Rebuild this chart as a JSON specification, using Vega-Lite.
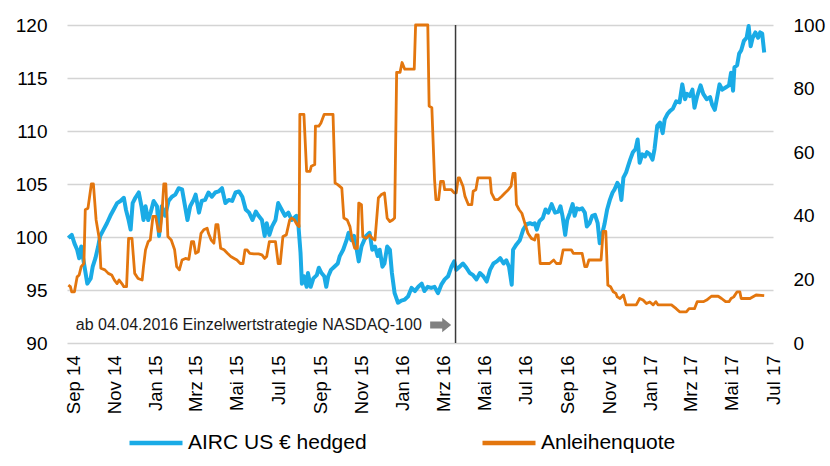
{
  "$schema": "https://vega.github.io/schema/vega-lite/v6.json",
  "width": 706,
  "height": 318,
  "autosize": {"type": "none"},
  "padding": {"left": 67, "top": 25, "right": 57, "bottom": 123},
  "config": {
    "view": {"stroke": null},
    "font": "Liberation Sans",
    "axis": {"labelFont": "Liberation Sans", "labelColor": "#000000", "title": null},
    "legend": {"labelFont": "Liberation Sans"}
  },
  "datasets": {
    "airc": [
      {"date": "2014-08-25", "value": 99.9}, {"date": "2014-08-30", "value": 100.2}, {"date": "2014-09-03", "value": 99.4},
      {"date": "2014-09-07", "value": 98.8}, {"date": "2014-09-10", "value": 98.0}, {"date": "2014-09-13", "value": 99.1},
      {"date": "2014-09-22", "value": 95.6}, {"date": "2014-09-27", "value": 96.1}, {"date": "2014-09-30", "value": 97.2},
      {"date": "2014-10-04", "value": 98.0}, {"date": "2014-10-08", "value": 99.1}, {"date": "2014-10-11", "value": 100.1},
      {"date": "2014-10-16", "value": 100.7}, {"date": "2014-10-21", "value": 101.3}, {"date": "2014-10-26", "value": 102.0},
      {"date": "2014-10-31", "value": 102.6}, {"date": "2014-11-05", "value": 103.2}, {"date": "2014-11-10", "value": 103.4},
      {"date": "2014-11-15", "value": 103.7}, {"date": "2014-11-18", "value": 102.6}, {"date": "2014-11-22", "value": 101.6},
      {"date": "2014-11-25", "value": 100.7}, {"date": "2014-11-28", "value": 103.2}, {"date": "2014-12-02", "value": 103.7},
      {"date": "2014-12-07", "value": 104.2}, {"date": "2014-12-11", "value": 102.9}, {"date": "2014-12-14", "value": 101.6},
      {"date": "2014-12-17", "value": 102.9}, {"date": "2014-12-21", "value": 101.6}, {"date": "2014-12-25", "value": 102.4},
      {"date": "2014-12-29", "value": 103.4}, {"date": "2015-01-03", "value": 102.9}, {"date": "2015-01-06", "value": 100.1},
      {"date": "2015-01-10", "value": 102.9}, {"date": "2015-01-15", "value": 102.0}, {"date": "2015-01-20", "value": 103.4},
      {"date": "2015-01-25", "value": 103.8}, {"date": "2015-01-30", "value": 104.0}, {"date": "2015-02-04", "value": 104.6},
      {"date": "2015-02-09", "value": 104.5}, {"date": "2015-02-12", "value": 103.4}, {"date": "2015-02-17", "value": 101.6},
      {"date": "2015-02-21", "value": 102.9}, {"date": "2015-02-26", "value": 103.5}, {"date": "2015-03-01", "value": 104.0},
      {"date": "2015-03-06", "value": 102.3}, {"date": "2015-03-10", "value": 103.4}, {"date": "2015-03-15", "value": 103.5},
      {"date": "2015-03-20", "value": 104.2}, {"date": "2015-03-25", "value": 103.8}, {"date": "2015-03-30", "value": 104.2},
      {"date": "2015-04-04", "value": 104.3}, {"date": "2015-04-09", "value": 104.6}, {"date": "2015-04-14", "value": 103.2},
      {"date": "2015-04-19", "value": 103.5}, {"date": "2015-04-24", "value": 103.4}, {"date": "2015-04-29", "value": 104.2},
      {"date": "2015-05-04", "value": 104.3}, {"date": "2015-05-09", "value": 103.8}, {"date": "2015-05-14", "value": 102.6},
      {"date": "2015-05-19", "value": 102.3}, {"date": "2015-05-24", "value": 101.6}, {"date": "2015-05-29", "value": 102.4},
      {"date": "2015-06-02", "value": 102.0}, {"date": "2015-06-07", "value": 101.6}, {"date": "2015-06-11", "value": 100.1},
      {"date": "2015-06-14", "value": 101.3}, {"date": "2015-06-18", "value": 100.2}, {"date": "2015-06-22", "value": 101.0},
      {"date": "2015-06-27", "value": 101.6}, {"date": "2015-07-01", "value": 103.2}, {"date": "2015-07-06", "value": 102.6},
      {"date": "2015-07-11", "value": 102.0}, {"date": "2015-07-16", "value": 102.3}, {"date": "2015-07-21", "value": 101.6},
      {"date": "2015-07-28", "value": 102.0}, {"date": "2015-07-31", "value": 101.0}, {"date": "2015-08-03", "value": 98.5},
      {"date": "2015-08-05", "value": 95.6}, {"date": "2015-08-08", "value": 96.3}, {"date": "2015-08-12", "value": 95.3},
      {"date": "2015-08-14", "value": 96.6}, {"date": "2015-08-18", "value": 95.3}, {"date": "2015-08-22", "value": 96.1},
      {"date": "2015-08-27", "value": 96.4}, {"date": "2015-08-30", "value": 97.1}, {"date": "2015-09-03", "value": 96.6},
      {"date": "2015-09-07", "value": 96.3}, {"date": "2015-09-10", "value": 95.3}, {"date": "2015-09-13", "value": 96.3},
      {"date": "2015-09-17", "value": 96.9}, {"date": "2015-09-22", "value": 97.2}, {"date": "2015-09-27", "value": 97.5},
      {"date": "2015-09-30", "value": 98.2}, {"date": "2015-10-05", "value": 98.8}, {"date": "2015-10-10", "value": 99.7},
      {"date": "2015-10-13", "value": 100.4}, {"date": "2015-10-17", "value": 99.7}, {"date": "2015-10-21", "value": 100.1},
      {"date": "2015-10-25", "value": 98.8}, {"date": "2015-10-28", "value": 97.7}, {"date": "2015-11-01", "value": 99.1},
      {"date": "2015-11-05", "value": 99.7}, {"date": "2015-11-08", "value": 100.1}, {"date": "2015-11-13", "value": 100.4},
      {"date": "2015-11-17", "value": 98.8}, {"date": "2015-11-21", "value": 99.1}, {"date": "2015-11-25", "value": 98.2},
      {"date": "2015-11-28", "value": 98.8}, {"date": "2015-12-02", "value": 97.2}, {"date": "2015-12-05", "value": 97.5},
      {"date": "2015-12-09", "value": 99.1}, {"date": "2015-12-13", "value": 98.8}, {"date": "2015-12-16", "value": 96.6},
      {"date": "2015-12-20", "value": 94.7}, {"date": "2015-12-25", "value": 93.8}, {"date": "2015-12-30", "value": 94.0},
      {"date": "2016-01-04", "value": 94.1}, {"date": "2016-01-09", "value": 94.4}, {"date": "2016-01-14", "value": 95.2},
      {"date": "2016-01-19", "value": 94.9}, {"date": "2016-01-24", "value": 95.3}, {"date": "2016-01-29", "value": 95.6},
      {"date": "2016-02-02", "value": 94.9}, {"date": "2016-02-07", "value": 95.3}, {"date": "2016-02-12", "value": 95.2},
      {"date": "2016-02-17", "value": 95.3}, {"date": "2016-02-22", "value": 94.7}, {"date": "2016-02-27", "value": 95.5},
      {"date": "2016-03-03", "value": 96.0}, {"date": "2016-03-08", "value": 96.3}, {"date": "2016-03-13", "value": 97.2},
      {"date": "2016-03-17", "value": 97.7}, {"date": "2016-03-20", "value": 96.9}, {"date": "2016-03-25", "value": 97.2},
      {"date": "2016-03-30", "value": 97.5}, {"date": "2016-04-04", "value": 97.1}, {"date": "2016-04-09", "value": 96.6},
      {"date": "2016-04-14", "value": 96.4}, {"date": "2016-04-19", "value": 96.0}, {"date": "2016-04-24", "value": 96.6},
      {"date": "2016-04-29", "value": 96.3}, {"date": "2016-05-04", "value": 95.8}, {"date": "2016-05-09", "value": 96.9},
      {"date": "2016-05-14", "value": 97.5}, {"date": "2016-05-19", "value": 97.7}, {"date": "2016-05-24", "value": 98.0},
      {"date": "2016-05-29", "value": 97.5}, {"date": "2016-06-02", "value": 97.8}, {"date": "2016-06-06", "value": 97.2},
      {"date": "2016-06-10", "value": 95.5}, {"date": "2016-06-12", "value": 98.8}, {"date": "2016-06-17", "value": 99.3},
      {"date": "2016-06-22", "value": 99.7}, {"date": "2016-06-27", "value": 100.7}, {"date": "2016-07-02", "value": 101.2},
      {"date": "2016-07-07", "value": 101.3}, {"date": "2016-07-11", "value": 101.2}, {"date": "2016-07-14", "value": 101.3},
      {"date": "2016-07-17", "value": 100.7}, {"date": "2016-07-21", "value": 101.5}, {"date": "2016-07-26", "value": 101.8},
      {"date": "2016-07-30", "value": 102.6}, {"date": "2016-08-03", "value": 102.3}, {"date": "2016-08-08", "value": 103.1},
      {"date": "2016-08-13", "value": 102.3}, {"date": "2016-08-18", "value": 102.4}, {"date": "2016-08-21", "value": 102.9},
      {"date": "2016-08-24", "value": 102.0}, {"date": "2016-08-28", "value": 100.2}, {"date": "2016-08-31", "value": 101.6},
      {"date": "2016-09-04", "value": 102.3}, {"date": "2016-09-08", "value": 103.1}, {"date": "2016-09-11", "value": 102.0},
      {"date": "2016-09-14", "value": 102.7}, {"date": "2016-09-18", "value": 102.6}, {"date": "2016-09-22", "value": 102.7},
      {"date": "2016-09-26", "value": 102.3}, {"date": "2016-09-29", "value": 101.0}, {"date": "2016-10-03", "value": 101.3},
      {"date": "2016-10-07", "value": 102.0}, {"date": "2016-10-11", "value": 102.1}, {"date": "2016-10-15", "value": 101.3},
      {"date": "2016-10-18", "value": 99.4}, {"date": "2016-10-22", "value": 100.4}, {"date": "2016-10-25", "value": 101.2},
      {"date": "2016-10-29", "value": 102.6}, {"date": "2016-11-02", "value": 103.5}, {"date": "2016-11-06", "value": 104.2},
      {"date": "2016-11-09", "value": 104.5}, {"date": "2016-11-13", "value": 105.1}, {"date": "2016-11-16", "value": 104.8},
      {"date": "2016-11-19", "value": 103.5}, {"date": "2016-11-22", "value": 105.6}, {"date": "2016-11-26", "value": 106.1},
      {"date": "2016-11-29", "value": 106.7}, {"date": "2016-12-02", "value": 107.3}, {"date": "2016-12-06", "value": 108.0},
      {"date": "2016-12-10", "value": 108.3}, {"date": "2016-12-13", "value": 109.2}, {"date": "2016-12-16", "value": 107.0},
      {"date": "2016-12-20", "value": 107.8}, {"date": "2016-12-24", "value": 107.6}, {"date": "2016-12-27", "value": 108.0},
      {"date": "2016-12-31", "value": 107.8}, {"date": "2017-01-04", "value": 107.3}, {"date": "2017-01-07", "value": 108.3},
      {"date": "2017-01-11", "value": 110.5}, {"date": "2017-01-15", "value": 110.8}, {"date": "2017-01-19", "value": 109.8},
      {"date": "2017-01-22", "value": 111.1}, {"date": "2017-01-26", "value": 111.6}, {"date": "2017-01-30", "value": 111.9},
      {"date": "2017-02-03", "value": 112.1}, {"date": "2017-02-08", "value": 112.8}, {"date": "2017-02-13", "value": 112.7},
      {"date": "2017-02-17", "value": 114.4}, {"date": "2017-02-21", "value": 113.0}, {"date": "2017-02-24", "value": 113.5},
      {"date": "2017-02-28", "value": 113.3}, {"date": "2017-03-04", "value": 113.9}, {"date": "2017-03-07", "value": 112.2},
      {"date": "2017-03-11", "value": 113.3}, {"date": "2017-03-16", "value": 114.3}, {"date": "2017-03-20", "value": 113.5},
      {"date": "2017-03-25", "value": 113.0}, {"date": "2017-03-30", "value": 113.2}, {"date": "2017-04-02", "value": 112.5},
      {"date": "2017-04-06", "value": 112.0}, {"date": "2017-04-09", "value": 113.0}, {"date": "2017-04-13", "value": 114.4},
      {"date": "2017-04-17", "value": 113.9}, {"date": "2017-04-22", "value": 114.1}, {"date": "2017-04-27", "value": 114.3},
      {"date": "2017-04-30", "value": 115.5}, {"date": "2017-05-03", "value": 113.8}, {"date": "2017-05-05", "value": 116.0},
      {"date": "2017-05-09", "value": 116.2}, {"date": "2017-05-12", "value": 117.3}, {"date": "2017-05-15", "value": 117.6},
      {"date": "2017-05-19", "value": 118.5}, {"date": "2017-05-23", "value": 118.8}, {"date": "2017-05-26", "value": 119.9},
      {"date": "2017-05-29", "value": 118.0}, {"date": "2017-06-01", "value": 118.8}, {"date": "2017-06-05", "value": 119.3},
      {"date": "2017-06-09", "value": 118.8}, {"date": "2017-06-12", "value": 119.3}, {"date": "2017-06-15", "value": 119.2},
      {"date": "2017-06-18", "value": 117.4}
    ],
    "quote": [
      {"date": "2014-08-25", "value": 18.2}, {"date": "2014-08-28", "value": 17.7}, {"date": "2014-08-30", "value": 16.1},
      {"date": "2014-09-03", "value": 16.1}, {"date": "2014-09-07", "value": 20.8}, {"date": "2014-09-10", "value": 21.4},
      {"date": "2014-09-13", "value": 24.0}, {"date": "2014-09-17", "value": 25.0}, {"date": "2014-09-19", "value": 41.9},
      {"date": "2014-09-23", "value": 42.4}, {"date": "2014-09-28", "value": 50.0}, {"date": "2014-10-01", "value": 50.0},
      {"date": "2014-10-05", "value": 38.7}, {"date": "2014-10-10", "value": 32.4}, {"date": "2014-10-12", "value": 23.5},
      {"date": "2014-10-18", "value": 23.0}, {"date": "2014-10-23", "value": 21.9}, {"date": "2014-10-28", "value": 21.4},
      {"date": "2014-11-01", "value": 19.8}, {"date": "2014-11-05", "value": 18.7}, {"date": "2014-11-08", "value": 19.8},
      {"date": "2014-11-12", "value": 18.7}, {"date": "2014-11-15", "value": 17.7}, {"date": "2014-11-19", "value": 17.7},
      {"date": "2014-11-22", "value": 32.9}, {"date": "2014-11-27", "value": 32.9}, {"date": "2014-12-01", "value": 21.9},
      {"date": "2014-12-06", "value": 20.3}, {"date": "2014-12-12", "value": 19.8}, {"date": "2014-12-14", "value": 24.0},
      {"date": "2014-12-17", "value": 29.3}, {"date": "2014-12-21", "value": 31.9}, {"date": "2014-12-24", "value": 32.4},
      {"date": "2014-12-28", "value": 39.8}, {"date": "2015-01-01", "value": 39.8}, {"date": "2015-01-05", "value": 35.1},
      {"date": "2015-01-08", "value": 35.1}, {"date": "2015-01-10", "value": 39.8}, {"date": "2015-01-13", "value": 50.0},
      {"date": "2015-01-16", "value": 50.0}, {"date": "2015-01-19", "value": 33.5}, {"date": "2015-01-24", "value": 32.4},
      {"date": "2015-01-29", "value": 29.3}, {"date": "2015-02-01", "value": 24.0}, {"date": "2015-02-05", "value": 23.0},
      {"date": "2015-02-09", "value": 26.1}, {"date": "2015-02-14", "value": 26.6}, {"date": "2015-02-19", "value": 26.3},
      {"date": "2015-02-23", "value": 31.9}, {"date": "2015-02-26", "value": 31.9}, {"date": "2015-03-01", "value": 28.2},
      {"date": "2015-03-05", "value": 28.7}, {"date": "2015-03-09", "value": 34.5}, {"date": "2015-03-13", "value": 35.6},
      {"date": "2015-03-18", "value": 36.1}, {"date": "2015-03-20", "value": 34.5}, {"date": "2015-03-24", "value": 32.4},
      {"date": "2015-03-28", "value": 31.4}, {"date": "2015-03-31", "value": 37.2}, {"date": "2015-04-03", "value": 37.2},
      {"date": "2015-04-07", "value": 29.8}, {"date": "2015-04-12", "value": 29.3}, {"date": "2015-04-17", "value": 28.2},
      {"date": "2015-04-22", "value": 27.2}, {"date": "2015-04-27", "value": 26.6}, {"date": "2015-05-01", "value": 26.1},
      {"date": "2015-05-06", "value": 25.0}, {"date": "2015-05-10", "value": 25.0}, {"date": "2015-05-13", "value": 29.3},
      {"date": "2015-05-16", "value": 29.3}, {"date": "2015-05-20", "value": 28.2}, {"date": "2015-05-26", "value": 28.0},
      {"date": "2015-06-02", "value": 28.0}, {"date": "2015-06-07", "value": 27.7}, {"date": "2015-06-11", "value": 26.6},
      {"date": "2015-06-14", "value": 27.2}, {"date": "2015-06-18", "value": 31.9}, {"date": "2015-06-27", "value": 31.9},
      {"date": "2015-07-01", "value": 25.0}, {"date": "2015-07-04", "value": 25.0}, {"date": "2015-07-08", "value": 33.5},
      {"date": "2015-07-13", "value": 34.0}, {"date": "2015-07-18", "value": 38.7}, {"date": "2015-07-21", "value": 39.3},
      {"date": "2015-07-25", "value": 38.7}, {"date": "2015-07-29", "value": 37.2}, {"date": "2015-08-01", "value": 36.6},
      {"date": "2015-08-02", "value": 71.9}, {"date": "2015-08-08", "value": 71.9}, {"date": "2015-08-12", "value": 54.0},
      {"date": "2015-08-17", "value": 54.0}, {"date": "2015-08-19", "value": 55.6}, {"date": "2015-08-24", "value": 56.1},
      {"date": "2015-08-25", "value": 68.2}, {"date": "2015-08-30", "value": 68.2}, {"date": "2015-09-02", "value": 69.1},
      {"date": "2015-09-07", "value": 71.9}, {"date": "2015-09-20", "value": 71.9}, {"date": "2015-09-23", "value": 50.3},
      {"date": "2015-09-27", "value": 49.8}, {"date": "2015-10-03", "value": 48.7}, {"date": "2015-10-06", "value": 39.3},
      {"date": "2015-10-11", "value": 38.7}, {"date": "2015-10-15", "value": 36.6}, {"date": "2015-10-18", "value": 32.9},
      {"date": "2015-10-22", "value": 29.8}, {"date": "2015-10-26", "value": 29.8}, {"date": "2015-10-28", "value": 44.0},
      {"date": "2015-11-01", "value": 43.5}, {"date": "2015-11-03", "value": 33.5}, {"date": "2015-11-08", "value": 32.9},
      {"date": "2015-11-13", "value": 34.0}, {"date": "2015-11-17", "value": 32.9}, {"date": "2015-11-21", "value": 32.4},
      {"date": "2015-11-26", "value": 45.6}, {"date": "2015-11-30", "value": 46.6}, {"date": "2015-12-05", "value": 47.2},
      {"date": "2015-12-09", "value": 39.3}, {"date": "2015-12-13", "value": 38.2}, {"date": "2015-12-17", "value": 38.7},
      {"date": "2015-12-20", "value": 39.3}, {"date": "2015-12-23", "value": 85.1}, {"date": "2015-12-28", "value": 85.1},
      {"date": "2015-12-31", "value": 88.2}, {"date": "2016-01-04", "value": 86.1}, {"date": "2016-01-18", "value": 86.1},
      {"date": "2016-01-20", "value": 100.0}, {"date": "2016-02-07", "value": 100.0}, {"date": "2016-02-09", "value": 74.5},
      {"date": "2016-02-13", "value": 74.0}, {"date": "2016-02-17", "value": 51.4}, {"date": "2016-02-19", "value": 45.1},
      {"date": "2016-02-23", "value": 45.1}, {"date": "2016-02-26", "value": 50.8}, {"date": "2016-03-01", "value": 50.8},
      {"date": "2016-03-03", "value": 48.2}, {"date": "2016-03-13", "value": 48.2}, {"date": "2016-03-17", "value": 47.2},
      {"date": "2016-03-20", "value": 47.2}, {"date": "2016-03-23", "value": 51.9}, {"date": "2016-03-25", "value": 51.9},
      {"date": "2016-03-30", "value": 49.3}, {"date": "2016-04-02", "value": 46.1}, {"date": "2016-04-07", "value": 43.5},
      {"date": "2016-04-12", "value": 43.5}, {"date": "2016-04-14", "value": 47.7}, {"date": "2016-04-18", "value": 48.2},
      {"date": "2016-04-21", "value": 51.9}, {"date": "2016-05-09", "value": 51.9}, {"date": "2016-05-11", "value": 47.2},
      {"date": "2016-05-16", "value": 45.1}, {"date": "2016-05-21", "value": 45.1}, {"date": "2016-05-26", "value": 46.1},
      {"date": "2016-05-31", "value": 47.2}, {"date": "2016-06-05", "value": 48.2}, {"date": "2016-06-09", "value": 49.3},
      {"date": "2016-06-12", "value": 53.3}, {"date": "2016-06-15", "value": 53.3}, {"date": "2016-06-17", "value": 43.5},
      {"date": "2016-06-21", "value": 41.9}, {"date": "2016-06-25", "value": 40.8}, {"date": "2016-06-30", "value": 37.2},
      {"date": "2016-07-04", "value": 34.5}, {"date": "2016-07-09", "value": 32.9}, {"date": "2016-07-14", "value": 32.4},
      {"date": "2016-07-16", "value": 34.0}, {"date": "2016-07-19", "value": 34.0}, {"date": "2016-07-22", "value": 25.0},
      {"date": "2016-08-05", "value": 25.0}, {"date": "2016-08-11", "value": 26.1}, {"date": "2016-08-15", "value": 25.0},
      {"date": "2016-08-21", "value": 25.0}, {"date": "2016-08-25", "value": 29.3}, {"date": "2016-09-06", "value": 29.3},
      {"date": "2016-09-09", "value": 28.2}, {"date": "2016-09-22", "value": 28.2}, {"date": "2016-09-26", "value": 24.0},
      {"date": "2016-09-29", "value": 24.0}, {"date": "2016-10-02", "value": 26.1}, {"date": "2016-10-20", "value": 26.1},
      {"date": "2016-10-23", "value": 35.1}, {"date": "2016-10-27", "value": 35.1}, {"date": "2016-10-30", "value": 18.2},
      {"date": "2016-11-03", "value": 17.7}, {"date": "2016-11-07", "value": 16.1}, {"date": "2016-11-11", "value": 15.6},
      {"date": "2016-11-13", "value": 14.5}, {"date": "2016-11-17", "value": 14.0}, {"date": "2016-11-22", "value": 15.1},
      {"date": "2016-11-26", "value": 12.0}, {"date": "2016-12-11", "value": 12.0}, {"date": "2016-12-16", "value": 14.0},
      {"date": "2016-12-21", "value": 13.5}, {"date": "2016-12-26", "value": 12.4}, {"date": "2016-12-31", "value": 12.9},
      {"date": "2017-01-05", "value": 12.0}, {"date": "2017-01-09", "value": 13.0}, {"date": "2017-01-12", "value": 12.0},
      {"date": "2017-02-01", "value": 12.0}, {"date": "2017-02-08", "value": 10.8}, {"date": "2017-02-13", "value": 9.8},
      {"date": "2017-02-23", "value": 9.8}, {"date": "2017-02-27", "value": 10.8}, {"date": "2017-03-07", "value": 10.8},
      {"date": "2017-03-11", "value": 13.0}, {"date": "2017-03-20", "value": 13.0}, {"date": "2017-03-25", "value": 13.5},
      {"date": "2017-04-01", "value": 14.7}, {"date": "2017-04-11", "value": 14.7}, {"date": "2017-04-16", "value": 14.0},
      {"date": "2017-04-22", "value": 13.0}, {"date": "2017-04-27", "value": 13.0}, {"date": "2017-04-30", "value": 14.0},
      {"date": "2017-05-04", "value": 14.5}, {"date": "2017-05-09", "value": 16.1}, {"date": "2017-05-13", "value": 16.1},
      {"date": "2017-05-15", "value": 14.0}, {"date": "2017-05-28", "value": 14.0}, {"date": "2017-06-06", "value": 15.1},
      {"date": "2017-06-18", "value": 14.9}
    ],
    "notes": [
      {"date": "2014-09-05", "value": 91.7, "label": "ab 04.04.2016 Einzelwertstrategie NASDAQ-100"}
    ],
    "arrow": [
      {"date": "2016-02-26", "value": 91.7}
    ],
    "switch": [
      {"date": "2016-03-19"}
    ]
  },
  "layer": [
    {
      "data": {"name": "airc"},
      "mark": {"type": "line", "strokeWidth": 4, "strokeJoin": "round"},
      "encoding": {
        "x": {
          "field": "date", "type": "temporal",
          "scale": {"type": "utc", "domain": [{"year": 2014, "month": 8, "date": 23, "utc": true}, {"year": 2017, "month": 7, "date": 1, "utc": true}]},
          "axis": {
            "values": [
              {"year": 2014, "month": 9, "date": 1, "utc": true}, {"year": 2014, "month": 11, "date": 1, "utc": true},
              {"year": 2015, "month": 1, "date": 1, "utc": true}, {"year": 2015, "month": 3, "date": 1, "utc": true},
              {"year": 2015, "month": 5, "date": 1, "utc": true}, {"year": 2015, "month": 7, "date": 1, "utc": true},
              {"year": 2015, "month": 9, "date": 1, "utc": true}, {"year": 2015, "month": 11, "date": 1, "utc": true},
              {"year": 2016, "month": 1, "date": 1, "utc": true}, {"year": 2016, "month": 3, "date": 1, "utc": true},
              {"year": 2016, "month": 5, "date": 1, "utc": true}, {"year": 2016, "month": 7, "date": 1, "utc": true},
              {"year": 2016, "month": 9, "date": 1, "utc": true}, {"year": 2016, "month": 11, "date": 1, "utc": true},
              {"year": 2017, "month": 1, "date": 1, "utc": true}, {"year": 2017, "month": 3, "date": 1, "utc": true},
              {"year": 2017, "month": 5, "date": 1, "utc": true}, {"year": 2017, "month": 7, "date": 1, "utc": true}
            ],
            "labelExpr": "['Jan','Feb','Mrz','Apr','Mai','Jun','Jul','Aug','Sep','Okt','Nov','Dez'][utcmonth(datum.value)] + ' ' + utcFormat(datum.value, '%y')",
            "labelAngle": 270, "labelFontSize": 18.5, "labelPadding": 12,
            "ticks": false, "domain": false, "grid": false, "labelOverlap": false, "labelBound": false, "labelFlush": false
          }
        },
        "y": {
          "field": "value", "type": "quantitative",
          "scale": {"domain": [90, 120], "nice": false, "zero": false},
          "axis": {
            "orient": "left", "values": [90, 95, 100, 105, 110, 115, 120],
            "grid": true, "gridColor": "#d4d4d4", "gridWidth": 1.5,
            "domain": false, "ticks": false, "labelFontSize": 19, "labelPadding": 20
          }
        },
        "color": {
          "datum": "AIRC US € hedged", "type": "nominal",
          "scale": {"domain": ["AIRC US € hedged", "Anleihenquote"], "range": ["#1AABE6", "#E3760E"]},
          "legend": {
            "orient": "none", "legendX": 60, "legendY": 389, "direction": "horizontal",
            "title": null, "symbolType": "stroke", "symbolSize": 2809, "symbolStrokeWidth": 4.5,
            "labelFontSize": 21, "labelColor": "#000000", "labelOffset": 3, "columnPadding": 106,
            "labelLimit": 400, "padding": 0
          }
        }
      }
    },
    {
      "data": {"name": "quote"},
      "mark": {"type": "line", "strokeWidth": 2.8, "strokeJoin": "round"},
      "encoding": {
        "x": {"field": "date", "type": "temporal"},
        "y": {
          "field": "value", "type": "quantitative",
          "scale": {"domain": [0, 100], "nice": false},
          "axis": {
            "orient": "right", "values": [0, 20, 40, 60, 80, 100],
            "grid": false, "domain": false, "ticks": false, "labelFontSize": 19, "labelPadding": 20
          }
        },
        "color": {"datum": "Anleihenquote", "type": "nominal"}
      }
    },
    {
      "layer": [
        {
          "mark": {"type": "rule", "color": "#000000", "strokeWidth": 2.5},
          "encoding": {"y": {"datum": 100, "type": "quantitative", "scale": {"domain": [90, 120], "nice": false, "zero": false}, "axis": null}}
        },
        {
          "data": {"name": "switch"},
          "mark": {"type": "rule", "color": "#3a3a3a", "strokeWidth": 1.5},
          "encoding": {"x": {"field": "date", "type": "temporal"}}
        },
        {
          "data": {"name": "notes"},
          "mark": {"type": "text", "align": "left", "baseline": "middle", "fontSize": 16, "color": "#1a1a1a", "font": "Liberation Sans"},
          "encoding": {
            "x": {"field": "date", "type": "temporal"},
            "y": {"field": "value", "type": "quantitative"},
            "text": {"field": "label"}
          }
        },
        {
          "data": {"name": "arrow"},
          "mark": {"type": "point", "filled": true, "color": "#808080", "opacity": 1, "size": 441,
                   "shape": "M-1,-0.33L0.15,-0.33L0.15,-0.7L1,0L0.15,0.7L0.15,0.33L-1,0.33Z"},
          "encoding": {
            "x": {"field": "date", "type": "temporal"},
            "y": {"field": "value", "type": "quantitative"}
          }
        }
      ]
    }
  ],
  "resolve": {"scale": {"y": "independent"}, "axis": {"y": "independent"}}
}
